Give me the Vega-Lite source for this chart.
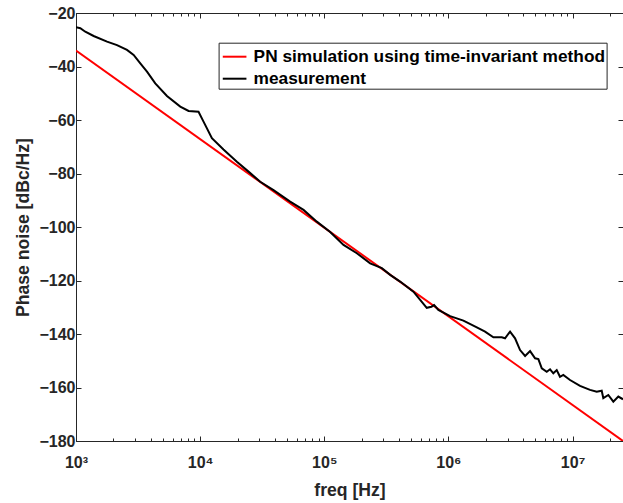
{
  "$schema": "https://vega.github.io/schema/vega-lite/v6.json",
  "width": 547,
  "height": 428,
  "autosize": "none",
  "padding": {"left": 76, "top": 13, "right": 0, "bottom": 62},
  "background": "white",
  "config": {
    "font": "Liberation Sans",
    "view": {"stroke": "#262626", "strokeWidth": 1}
  },
  "data": {
    "values": [
      {"f": 1000, "pn": -34, "series": "PN simulation using time-invariant method"},
      {"f": 25500000, "pn": -180, "series": "PN simulation using time-invariant method"},
      {"f": 1000, "pn": -25.3, "series": "measurement"},
      {"f": 1083, "pn": -25.7, "series": "measurement"},
      {"f": 1188, "pn": -27, "series": "measurement"},
      {"f": 1387, "pn": -28.6, "series": "measurement"},
      {"f": 1778, "pn": -30.7, "series": "measurement"},
      {"f": 2139, "pn": -32, "series": "measurement"},
      {"f": 2574, "pn": -33.8, "series": "measurement"},
      {"f": 2912, "pn": -35.7, "series": "measurement"},
      {"f": 3296, "pn": -38.8, "series": "measurement"},
      {"f": 3732, "pn": -41.9, "series": "measurement"},
      {"f": 4350, "pn": -46.3, "series": "measurement"},
      {"f": 5405, "pn": -51, "series": "measurement"},
      {"f": 6918, "pn": -55, "series": "measurement"},
      {"f": 8072, "pn": -56.6, "series": "measurement"},
      {"f": 9705, "pn": -56.9, "series": "measurement"},
      {"f": 10650, "pn": -60.6, "series": "measurement"},
      {"f": 12440, "pn": -66.8, "series": "measurement"},
      {"f": 15420, "pn": -71, "series": "measurement"},
      {"f": 19770, "pn": -75.6, "series": "measurement"},
      {"f": 24530, "pn": -79.3, "series": "measurement"},
      {"f": 30480, "pn": -83.1, "series": "measurement"},
      {"f": 39000, "pn": -86.2, "series": "measurement"},
      {"f": 53100, "pn": -90.5, "series": "measurement"},
      {"f": 68040, "pn": -93.6, "series": "measurement"},
      {"f": 87100, "pn": -98, "series": "measurement"},
      {"f": 111600, "pn": -101.9, "series": "measurement"},
      {"f": 142900, "pn": -106.7, "series": "measurement"},
      {"f": 183000, "pn": -109.8, "series": "measurement"},
      {"f": 234300, "pn": -113.6, "series": "measurement"},
      {"f": 291000, "pn": -115.4, "series": "measurement"},
      {"f": 339600, "pn": -117.9, "series": "measurement"},
      {"f": 408400, "pn": -120.4, "series": "measurement"},
      {"f": 522700, "pn": -124.2, "series": "measurement"},
      {"f": 669300, "pn": -130.2, "series": "measurement"},
      {"f": 730000, "pn": -129.8, "series": "measurement"},
      {"f": 767100, "pn": -129.2, "series": "measurement"},
      {"f": 830000, "pn": -131, "series": "measurement"},
      {"f": 1032000, "pn": -133.3, "series": "measurement"},
      {"f": 1321000, "pn": -135, "series": "measurement"},
      {"f": 1694000, "pn": -137.5, "series": "measurement"},
      {"f": 1974000, "pn": -139.1, "series": "measurement"},
      {"f": 2303000, "pn": -141.2, "series": "measurement"},
      {"f": 2690000, "pn": -141.2, "series": "measurement"},
      {"f": 2859000, "pn": -141.6, "series": "measurement"},
      {"f": 3139000, "pn": -139.1, "series": "measurement"},
      {"f": 3443000, "pn": -141.6, "series": "measurement"},
      {"f": 3778000, "pn": -146, "series": "measurement"},
      {"f": 4149000, "pn": -148.2, "series": "measurement"},
      {"f": 4550000, "pn": -146.4, "series": "measurement"},
      {"f": 4993000, "pn": -149.1, "series": "measurement"},
      {"f": 5306000, "pn": -149.4, "series": "measurement"},
      {"f": 5653000, "pn": -152.8, "series": "measurement"},
      {"f": 6199000, "pn": -154.1, "series": "measurement"},
      {"f": 6590000, "pn": -153.2, "series": "measurement"},
      {"f": 7003000, "pn": -154.7, "series": "measurement"},
      {"f": 7458000, "pn": -153.5, "series": "measurement"},
      {"f": 7925000, "pn": -156, "series": "measurement"},
      {"f": 8425000, "pn": -155.3, "series": "measurement"},
      {"f": 9544000, "pn": -157.2, "series": "measurement"},
      {"f": 11490000, "pn": -159.4, "series": "measurement"},
      {"f": 13830000, "pn": -160.9, "series": "measurement"},
      {"f": 15660000, "pn": -161.6, "series": "measurement"},
      {"f": 17180000, "pn": -161.2, "series": "measurement"},
      {"f": 17700000, "pn": -164, "series": "measurement"},
      {"f": 19420000, "pn": -162.8, "series": "measurement"},
      {"f": 21310000, "pn": -165.3, "series": "measurement"},
      {"f": 23380000, "pn": -163.4, "series": "measurement"},
      {"f": 25500000, "pn": -164.4, "series": "measurement"}
    ]
  },
  "layer": [
    {
      "mark": {"type": "line", "strokeWidth": 2, "clip": true},
      "encoding": {
        "x": {
          "field": "f", "type": "quantitative",
          "scale": {"type": "log", "domain": [1000, 25500000], "nice": false},
          "axis": {
            "orient": "bottom",
            "values": [1000,2000,3000,4000,5000,6000,7000,8000,9000,10000,20000,30000,40000,50000,60000,70000,80000,90000,100000,200000,300000,400000,500000,600000,700000,800000,900000,1000000,2000000,3000000,4000000,5000000,6000000,7000000,8000000,9000000,10000000,20000000],
            "labelExpr": "datum.value==1000?'10³':datum.value==10000?'10⁴':datum.value==100000?'10⁵':datum.value==1000000?'10⁶':datum.value==10000000?'10⁷':''",
            "tickSize": {"condition": {"test": "indexof([1000,10000,100000,1000000,10000000], datum.value) >= 0", "value": -5}, "value": -3},
            "tickColor": "#262626", "domainColor": "#262626", "labelColor": "#262626",
            "grid": false, "labelFontSize": 16, "labelFontWeight": "bold",
            "labelPadding": 18, "labelFlush": false, "labelOverlap": false,
            "title": "freq [Hz]", "titleFontSize": 17.6, "titleFontWeight": "bold",
            "titleColor": "#262626", "titlePadding": 9
          }
        },
        "y": {
          "field": "pn", "type": "quantitative",
          "scale": {"domain": [-180, -20], "nice": false, "zero": false},
          "axis": {
            "orient": "left",
            "values": [-180,-160,-140,-120,-100,-80,-60,-40,-20],
            "tickSize": -5,
            "tickColor": "#262626", "domainColor": "#262626", "labelColor": "#262626",
            "grid": false, "labelFontSize": 16, "labelFontWeight": "bold",
            "labelPadding": 6, "labelFlush": false, "labelOverlap": false,
            "title": "Phase noise [dBc/Hz]", "titleFontSize": 17.6, "titleFontWeight": "bold",
            "titleColor": "#262626", "titlePadding": 6
          }
        },
        "color": {
          "field": "series", "type": "nominal",
          "scale": {"domain": ["PN simulation using time-invariant method", "measurement"], "range": ["#ff0000", "#000000"]},
          "legend": {
            "title": null, "orient": "none", "legendX": 142.6, "legendY": 29.7,
            "symbolType": "stroke", "symbolSize": 560, "symbolStrokeWidth": 2, "symbolOffset": 2,
            "labelFontSize": 17.3, "labelFontWeight": "bold", "labelColor": "#000000",
            "labelLimit": 0, "labelOffset": 6, "rowPadding": 0, "padding": 1,
            "strokeColor": "#262626", "fillColor": "white", "cornerRadius": 0
          }
        }
      }
    },
    {
      "mark": {"type": "line", "opacity": 0},
      "encoding": {
        "x": {
          "field": "f", "type": "quantitative",
          "axis": {
            "orient": "top", "labels": false, "title": null, "grid": false,
            "values": [1000,2000,3000,4000,5000,6000,7000,8000,9000,10000,20000,30000,40000,50000,60000,70000,80000,90000,100000,200000,300000,400000,500000,600000,700000,800000,900000,1000000,2000000,3000000,4000000,5000000,6000000,7000000,8000000,9000000,10000000,20000000],
            "tickSize": {"condition": {"test": "indexof([1000,10000,100000,1000000,10000000], datum.value) >= 0", "value": -5}, "value": -3},
            "tickColor": "#262626", "domainColor": "#262626"
          }
        },
        "y": {
          "field": "pn", "type": "quantitative",
          "axis": {
            "orient": "right", "labels": false, "title": null, "grid": false,
            "values": [-180,-160,-140,-120,-100,-80,-60,-40,-20],
            "tickSize": -5, "tickColor": "#262626", "domainColor": "#262626"
          }
        }
      }
    }
  ],
  "resolve": {"axis": {"x": "independent", "y": "independent"}}
}
